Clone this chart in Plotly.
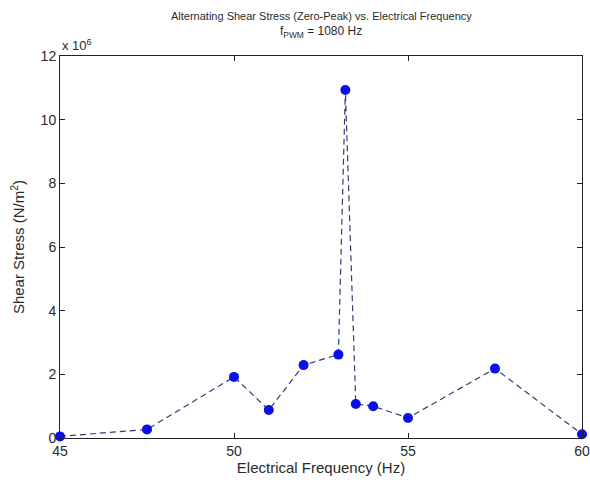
import plotly.graph_objects as go

# Electrical frequency (Hz) and zero-peak alternating shear stress (x 10^6 N/m^2)
freq_hz = [45, 47.5, 50, 51, 52, 53, 53.2, 53.5, 54, 55, 57.5, 60]
stress_e6 = [0.05, 0.27, 1.92, 0.88, 2.29, 2.62, 10.93, 1.07, 1.0, 0.63, 2.18, 0.12]

x_ticks = [45, 50, 55, 60]
y_ticks = [0, 2, 4, 6, 8, 10, 12]

title_main = "Alternating Shear Stress (Zero-Peak) vs. Electrical Frequency"
title_sub = "f<sub>PWM</sub> = 1080 Hz"

FONT = "Liberation Sans, Arial, sans-serif"
TXT = "#2a2a2a"

fig = go.Figure()
fig.add_trace(go.Scatter(
    x=freq_hz, y=stress_e6,
    mode="lines+markers",
    line=dict(color="#363a72", width=1.2, dash="6px,4px"),
    marker=dict(color="#0a10e8", size=10, line=dict(width=0)),
    cliponaxis=False,
    showlegend=False,
))

axis_common = dict(
    showgrid=False, zeroline=False,
    showline=True, linecolor="#222222", linewidth=1, mirror="ticks",
    ticks="inside", ticklen=5, tickcolor="#222222",
    tickfont=dict(family=FONT, size=14, color=TXT),
    automargin=False,
)

fig.update_layout(
    width=590, height=485,
    margin=dict(l=60, r=8, t=56, b=47),
    paper_bgcolor="white", plot_bgcolor="white",
    xaxis=dict(
        range=[45, 60], tickvals=x_ticks,
        title=dict(text="Electrical Frequency (Hz)", standoff=4,
                   font=dict(family=FONT, size=15, color=TXT)),
        **axis_common,
    ),
    yaxis=dict(
        range=[0, 12], tickvals=y_ticks,
        title=dict(text="Shear Stress (N/m<sup>2</sup>)", standoff=12,
                   font=dict(family=FONT, size=15, color=TXT)),
        **axis_common,
    ),
    annotations=[
        dict(text=title_main, xref="paper", yref="paper",
             x=0.5, y=1, xanchor="center", yanchor="middle", yshift=40,
             showarrow=False, font=dict(family=FONT, size=11, color=TXT)),
        dict(text=title_sub, xref="paper", yref="paper",
             x=0.5, y=1, xanchor="center", yanchor="middle", yshift=24,
             showarrow=False, font=dict(family=FONT, size=12, color=TXT)),
        dict(text="x 10<sup>6</sup>", xref="paper", yref="paper",
             x=0, y=1, xanchor="left", yanchor="bottom", yshift=1,
             showarrow=False, font=dict(family=FONT, size=13, color=TXT)),
    ],
)

fig.write_html("out.html")
